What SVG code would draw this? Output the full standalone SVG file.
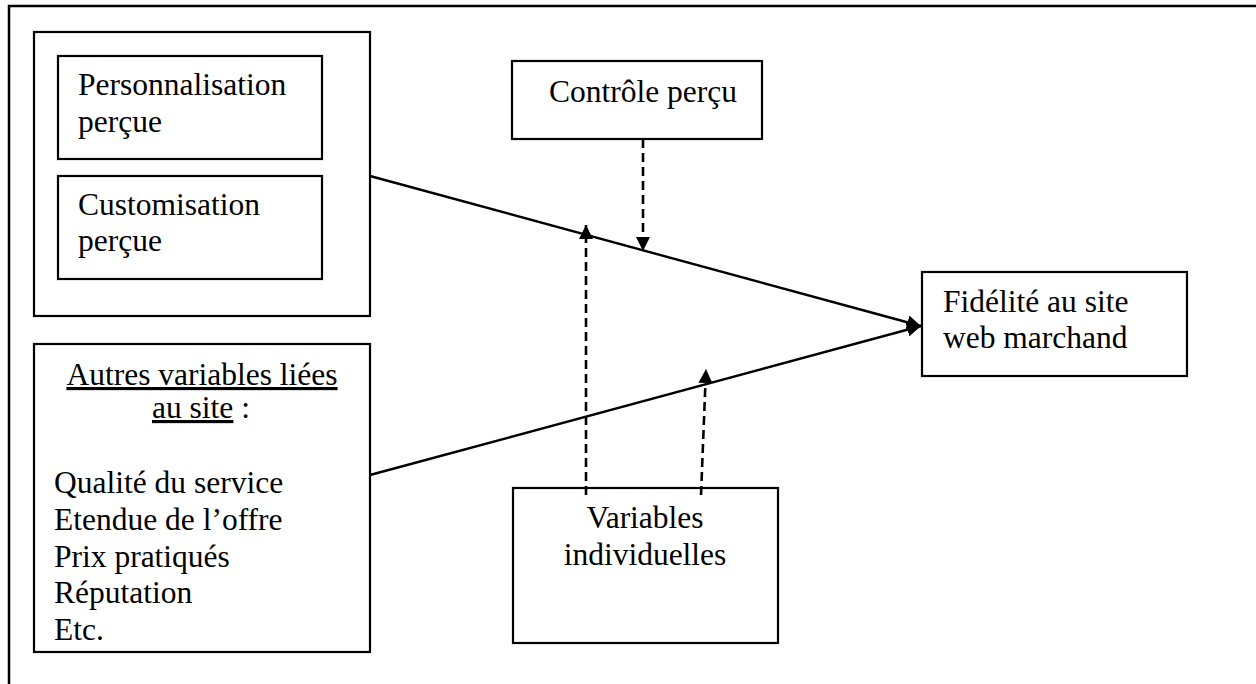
<svg xmlns="http://www.w3.org/2000/svg" width="1256" height="684" viewBox="0 0 1256 684">
<style>
  .box { fill: #fff; stroke: #000; stroke-width: 2.2; }
  .t { font-family: "Liberation Serif", "Times New Roman", serif; font-size: 31.5px; fill: #000; }
  .mid { text-anchor: middle; }
  .solid { stroke: #000; stroke-width: 2.4; fill: none; }
  .dash { stroke: #000; stroke-width: 2.6; fill: none; stroke-dasharray: 9 5; }
</style>
<defs>
  <marker id="arr" markerUnits="userSpaceOnUse" markerWidth="16" markerHeight="14" refX="14" refY="7" orient="auto">
    <path d="M0,0 L14,7 L0,14 Z" fill="#000"/>
  </marker>
</defs>
<rect width="1256" height="684" fill="#fff"/>
<path d="M9,684 V6 H1256" fill="none" stroke="#000" stroke-width="2.5"/>

<g id="site-perso-group">
  <rect class="box" x="34" y="32" width="336" height="284"/>
  <g id="personnalisation">
    <rect class="box" x="58" y="56" width="264" height="103"/>
    <text class="t" x="78" y="95">Personnalisation</text>
    <text class="t" x="78" y="132">perçue</text>
  </g>
  <g id="customisation">
    <rect class="box" x="58" y="176" width="264" height="103"/>
    <text class="t" x="78" y="215">Customisation</text>
    <text class="t" x="78" y="251">perçue</text>
  </g>
</g>

<g id="autres-variables">
  <rect class="box" x="34" y="344" width="336" height="308"/>
  <text class="t mid" x="202" y="385" text-decoration="underline">Autres variables liées</text>
  <text class="t mid" x="201" y="418"><tspan text-decoration="underline">au site</tspan> :</text>
  <text class="t" x="54" y="493">Qualité du service</text>
  <text class="t" x="54" y="530">Etendue de l’offre</text>
  <text class="t" x="54" y="567">Prix pratiqués</text>
  <text class="t" x="54" y="603">Réputation</text>
  <text class="t" x="54" y="640">Etc.</text>
</g>

<g id="controle-percu">
  <rect class="box" x="512" y="61" width="250" height="78"/>
  <text class="t mid" x="643" y="102">Contrôle perçu</text>
</g>

<g id="variables-individuelles">
  <rect class="box" x="513" y="488" width="265" height="155"/>
  <text class="t mid" x="645" y="528">Variables</text>
  <text class="t mid" x="645" y="565">individuelles</text>
</g>

<g id="fidelite">
  <rect class="box" x="922" y="272" width="265" height="104"/>
  <text class="t" x="943" y="312">Fidélité au site</text>
  <text class="t" x="943" y="348">web marchand</text>
</g>

<g id="connectors">
  <line class="solid" x1="370" y1="176" x2="921" y2="326" marker-end="url(#arr)"/>
  <line class="solid" x1="370" y1="475" x2="921" y2="326" marker-end="url(#arr)"/>
  <line class="dash" x1="643" y1="139" x2="643" y2="251" marker-end="url(#arr)"/>
  <line class="dash" x1="586" y1="495" x2="586" y2="225" marker-end="url(#arr)"/>
  <line class="dash" x1="701" y1="495" x2="706" y2="369" marker-end="url(#arr)"/>
</g>
</svg>
